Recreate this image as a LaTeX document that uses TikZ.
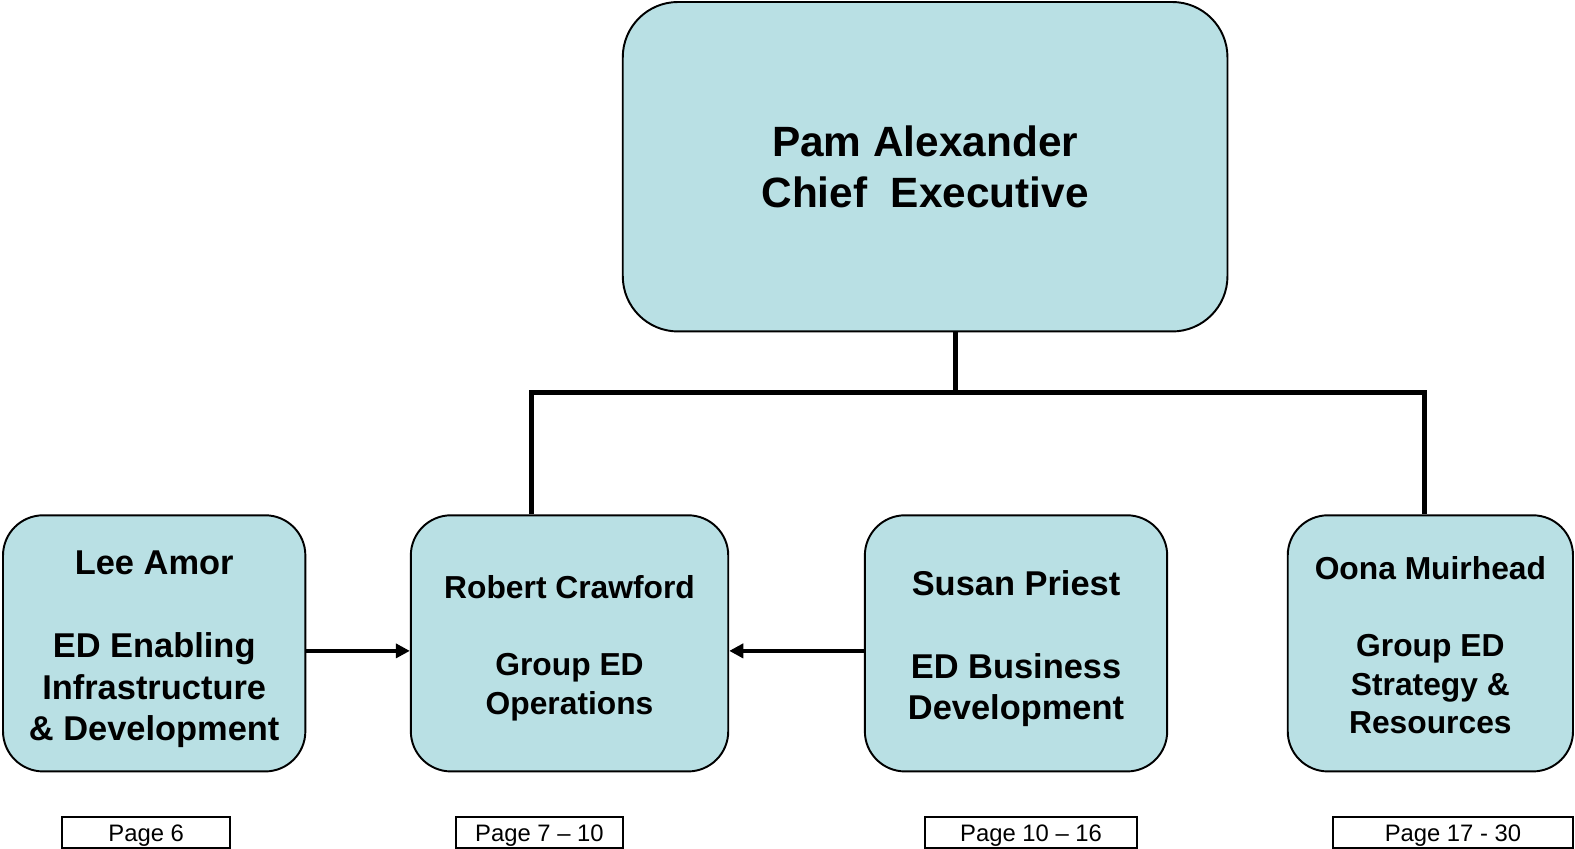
\documentclass[tikz,border=0pt]{standalone}
\usepackage{fontspec}
\setmainfont{Liberation Sans}
\usepackage{tikz}
\usetikzlibrary{arrows.meta,calc}
\definecolor{boxblue}{RGB}{185,224,228}

\begin{document}
\begin{tikzpicture}[
  post/.style={draw=black,line width=1.1pt,fill=boxblue,rounded corners=0.8cm,
    inner sep=0pt,align=center,font=\bfseries},
  pagebox/.style={draw=black,line width=0.9pt,fill=white,inner sep=0pt,
    minimum height=0.62cm,text height=0.49cm,text depth=0.13cm,
    font=\fontsize{13.5}{16}\selectfont},
  tree/.style={line width=2.85pt},
  link/.style={line width=2.4pt,-{Triangle[length=2.8mm,width=2.8mm]}}
]
\useasboundingbox (0,0) rectangle (31.36,-16.9);

\node[post,rounded corners=1.1cm,minimum width=12.04cm,minimum height=6.56cm,
  font=\bfseries\fontsize{24}{29}\selectfont] (ceo) at (18.42,-3.32)
  {Pam Alexander\\Chief~~Executive};

\node[post,minimum width=6.02cm,minimum height=5.1cm,
  font=\bfseries\fontsize{19.5}{23.6}\selectfont] (lee) at (3.07,-12.81)
  {\rule{0pt}{20pt}Lee Amor\\[23.6pt]ED Enabling\\Infrastructure\\\& Development};
\node[post,minimum width=6.32cm,minimum height=5.1cm,
  font=\bfseries\fontsize{18}{21.9}\selectfont] (robert) at (11.34,-12.81)
  {\rule{0pt}{18.8pt}Robert Crawford\\[21.9pt]Group ED\\Operations};
\node[post,minimum width=6.02cm,minimum height=5.1cm,
  font=\bfseries\fontsize{19.5}{23.3}\selectfont] (susan) at (20.23,-12.81)
  {\rule{0pt}{20pt}Susan Priest\\[23.3pt]ED Business\\Development};
\node[post,minimum width=5.68cm,minimum height=5.1cm,
  font=\bfseries\fontsize{18}{21.8}\selectfont] (oona) at (28.48,-12.81)
  {\rule{0pt}{15.4pt}Oona Muirhead\\[21.8pt]Group ED\\Strategy \&\\Resources};

\node[pagebox,minimum width=3.34cm] (plee) at (2.91,-16.58) {Page 6};
\node[pagebox,minimum width=3.32cm] (probert) at (10.74,-16.58) {Page 7 -- 10};
\node[pagebox,minimum width=4.22cm] (psusan) at (20.53,-16.58) {Page 10 -- 16};
\node[pagebox,minimum width=4.78cm] (poona) at (28.93,-16.58) {Page 17 - 30};

\coordinate (bus) at (19.02,-7.82);
\coordinate (busL) at (10.58,-7.82);
\coordinate (busR) at (28.36,-7.82);
\draw[tree] (ceo.south -| bus) -- (bus);
\draw[tree] (robert.north -| busL) -- (busL) -- (busR) -- (oona.north -| busR);

\draw[link] ([yshift=-1.5mm]lee.east) -- ([yshift=-1.5mm]robert.west);
\draw[link] ([yshift=-1.5mm]susan.west) -- ([yshift=-1.5mm]robert.east);
\end{tikzpicture}
\end{document}
